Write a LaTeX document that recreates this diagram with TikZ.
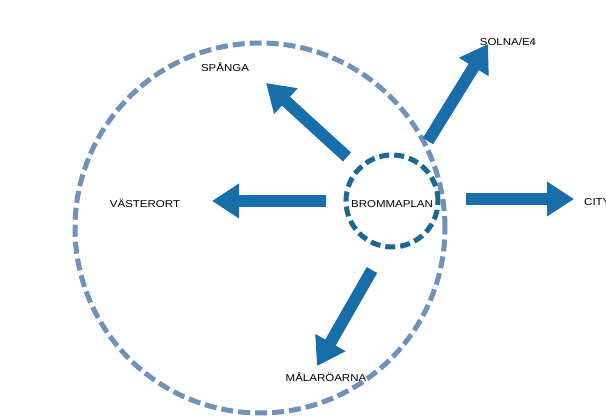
\documentclass[tikz,border=0pt]{standalone}
\usepackage{fontspec}
\setmainfont{Liberation Sans}
\newfontfamily\labfont[FakeStretch=1.15]{Liberation Sans}
\usetikzlibrary{arrows.meta}
\definecolor{ringblue}  {RGB}{112,146,186}
\definecolor{hubblue}   {RGB}{28,104,146}
\definecolor{arrowblue} {RGB}{24,110,168}
\tikzset{
place/.style={font=\labfont\fontsize{10}{12}\selectfont,inner sep=1pt},
flow/.style={draw=arrowblue,line width=12pt,-{Triangle[length=27pt,width=33pt]}},
}
\begin{document}
\begin{tikzpicture}[x=1pt,y=-1pt]
            \clip (0,0) rectangle (606,419);
            \fill[white] (0,0) rectangle (606,419);
            \draw[ringblue,line width=5pt,dash pattern=on 12pt off 5pt] (260,228) circle (185pt);
            \draw[hubblue,line width=5pt,dash pattern=on 10pt off 5pt] (392,201) circle (46pt);
            \node [place] (bromma) at (392,204) {BROMMAPLAN};
            \node [place] (spanga) at (225,67) {SPÅNGA};
            \node [place] (solna) at (508,42) {SOLNA/E4};
            \node [place] (vaster) at (145,203) {VÄSTERORT};
            \node [place,anchor=west] (city) at (583,202) {CITY};
            \node [place] (malar) at (326,377) {MÅLARÖARNA};
            \coordinate (spangaA) at (347,157);  \coordinate (spangaB) at (266,83);
            \coordinate (solnaA) at (428,141);   \coordinate (solnaB) at (488,44);
            \coordinate (vasterA) at (326,201);  \coordinate (vasterB) at (212,201);
            \coordinate (cityA) at (466,199);    \coordinate (cityB) at (574,199);
            \coordinate (malarA) at (372,270);   \coordinate (malarB) at (317,366);
            \draw [flow] (spangaA) -- (spangaB);
            \draw [flow] (solnaA) -- (solnaB);
            \draw [flow] (vasterA) -- (vasterB);
            \draw [flow] (cityA) -- (cityB);
            \draw [flow] (malarA) -- (malarB);
        \end{tikzpicture}
\end{document}
